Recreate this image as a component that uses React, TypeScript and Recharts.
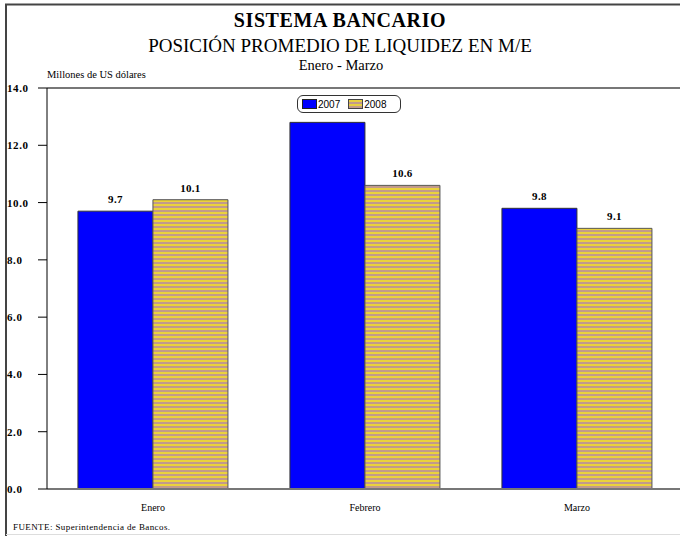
import React from "react";
import { BarChart, Bar, XAxis, YAxis, ReferenceLine, LabelList } from "recharts";

const categories = ["Enero", "Febrero", "Marzo"];
const values2007 = [9.7, 12.8, 9.8];
const values2008 = [10.1, 10.6, 9.1];
const yTicks = [0, 2, 4, 6, 8, 10, 12, 14];
const seriesNames = ["2007", "2008"];

const data = categories.map((c, i) => ({ name: c, s2007: values2007[i], s2008: values2008[i] }));

const SERIF = "'Liberation Serif', 'DejaVu Serif', serif";

// legend box (drawn on top of the chart, hides whatever lies under it as in the original)
const LEGEND = { left: 297, top: 95, width: 104, height: 18 };

const YTick = (props: any) => {
  const { y, payload } = props;
  return (
    <text x={7} y={y + 4} fontFamily={SERIF} fontSize={11} fontWeight="bold" letterSpacing={0.6} fill="#000" textAnchor="start">
      {Number(payload.value).toFixed(1)}
    </text>
  );
};

const XTick = (props: any) => {
  const { x, y, payload } = props;
  return (
    <text x={x} y={y + 14} fontFamily={SERIF} fontSize={10} fill="#000" textAnchor="middle">
      {payload.value}
    </text>
  );
};

const ValueLabel = (props: any) => {
  const { x, y, width, value } = props;
  const cx = x + width / 2;
  const ty = y - 8;
  const hidden =
    cx > LEGEND.left && cx < LEGEND.left + LEGEND.width && ty > LEGEND.top && ty - 8 < LEGEND.top + LEGEND.height;
  if (hidden) return null;
  return (
    <text x={cx} y={ty} fontFamily={SERIF} fontSize={11} fontWeight="bold" letterSpacing={0.3} fill="#000" textAnchor="middle">
      {Number(value).toFixed(1)}
    </text>
  );
};

const LegendBox = () => (
  <div
    style={{
      position: "absolute",
      left: LEGEND.left,
      top: LEGEND.top,
      width: LEGEND.width - 2,
      height: LEGEND.height - 2,
      border: "1px solid #333",
      borderRadius: 6,
      background: "#fff",
      display: "flex",
      alignItems: "center",
      fontFamily: "'Liberation Sans', Arial, sans-serif",
      fontSize: 10,
      color: "#000",
    }}
  >
    <span style={{ display: "inline-block", width: 13, height: 8, background: "#0000ff", border: "1px solid #222", marginLeft: 4 }} />
    <span style={{ marginLeft: 1 }}>{seriesNames[0]}</span>
    <span
      style={{
        display: "inline-block",
        width: 13,
        height: 8,
        border: "1px solid #444",
        marginLeft: 8,
        background: "repeating-linear-gradient(to bottom, #e8d040 0px, #e8d040 2px, #c29a8c 2px, #c29a8c 4px)",
      }}
    />
    <span style={{ marginLeft: 1 }}>{seriesNames[1]}</span>
  </div>
);

export default function App() {
  return (
    <div style={{ position: "absolute", left: 0, top: 0, width: 680, height: 536, overflow: "hidden", background: "#fff" }}>
      <BarChart
        width={690}
        height={536}
        data={data}
        margin={{ top: 88, right: 7, bottom: 0, left: 0 }}
        barCategoryGap="14.6%"
        barGap={0}
      >
        <defs>
          <pattern id="stripes" patternUnits="userSpaceOnUse" width={8} height={4}>
            <rect x={0} y={0} width={8} height={2} fill="#ead23c" />
            <rect x={0} y={2} width={8} height={2} fill="#c29a8c" />
          </pattern>
        </defs>
        <XAxis
          dataKey="name"
          height={47}
          axisLine={{ stroke: "#777", strokeWidth: 2 }}
          tickLine={false}
          tick={<XTick />}
        />
        <YAxis
          width={47}
          domain={[0, 14]}
          ticks={yTicks}
          interval={0}
          tickSize={9}
          axisLine={{ stroke: "#000", strokeWidth: 1 }}
          tickLine={{ stroke: "#000" }}
          tick={<YTick />}
        />
        <ReferenceLine y={14} stroke="#777" strokeWidth={2} />
        <Bar dataKey="s2007" name={seriesNames[0]} fill="#0000ff" stroke="#333" strokeWidth={1} isAnimationActive={false}>
          <LabelList dataKey="s2007" content={<ValueLabel />} />
        </Bar>
        <Bar dataKey="s2008" name={seriesNames[1]} fill="url(#stripes)" stroke="#555" strokeWidth={1} isAnimationActive={false}>
          <LabelList dataKey="s2008" content={<ValueLabel />} />
        </Bar>
      </BarChart>
      <svg width={680} height={536} style={{ position: "absolute", left: 0, top: 0, pointerEvents: "none" }}>
        <line x1={5} y1={4.5} x2={680} y2={4.5} stroke="#444" strokeWidth={2} />
        <line x1={6} y1={4} x2={6} y2={536} stroke="#444" strokeWidth={2} />
        <line x1={6} y1={534.5} x2={680} y2={534.5} stroke="#ddd" strokeWidth={1} />
        <text x={340} y={27} textAnchor="middle" fontFamily={SERIF} fontSize={20} fontWeight="bold" letterSpacing={0.6} fill="#000">SISTEMA BANCARIO</text>
        <text x={340} y={52} textAnchor="middle" fontFamily={SERIF} fontSize={19} fill="#000">POSICIÓN PROMEDIO DE LIQUIDEZ EN M/E</text>
        <text x={341} y={70} textAnchor="middle" fontFamily={SERIF} fontSize={14.5} fill="#000">Enero - Marzo</text>
        <text x={47} y={78} textAnchor="start" fontFamily={SERIF} fontSize={10.5} fill="#000">Millones de US dólares</text>
        <text x={13} y={530} textAnchor="start" fontFamily={SERIF} fontSize={9} fill="#000" letterSpacing={0.4}>FUENTE: Superintendencia de Bancos.</text>
      </svg>
      <LegendBox />
    </div>
  );
}
